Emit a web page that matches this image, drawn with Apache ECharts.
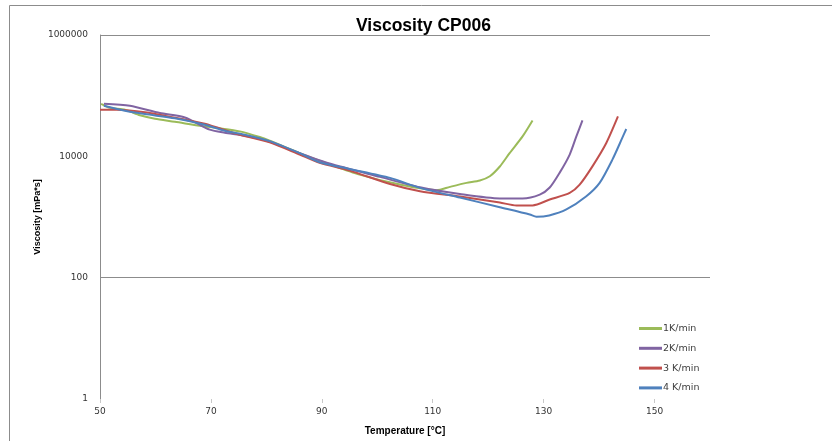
<!DOCTYPE html>
<html>
<head>
<meta charset="utf-8">
<script src="https://cdn.jsdelivr.net/npm/echarts@6/dist/echarts.min.js"></script>
<style>
  html, body { margin: 0; padding: 0; background: #ffffff; }
  #chart { width: 832px; height: 441px; }
</style>
</head>
<body>
<div id="chart"></div>
<script>
// ---- Data ----
const seriesNames = ['1K/min', '2K/min', '3 K/min', '4 K/min'];

const temp1K = [50.2, 51.8, 54.5, 57.2, 59.9, 63.5, 68.0, 71.6, 75.2, 78.8, 80.6, 86.0, 91.4, 96.8, 104.1, 110.7, 113.1, 116.1, 118.5, 120.3, 122.1, 123.9, 126.2, 128.0];
const visc1K = [73500, 63000, 58500, 47500, 41600, 37200, 31900, 29000, 25800, 20800, 18100, 11300, 7400, 5000, 3420, 2760, 3140, 3650, 4000, 4700, 6800, 11400, 21300, 39000];

const temp2K = [50.7, 55.4, 60.8, 65.3, 69.8, 72.5, 76.1, 80.6, 86.0, 91.4, 100.5, 107.7, 114.9, 122.1, 126.2, 129.3, 131.1, 132.9, 134.7, 135.9, 137.0];
const visc2K = [73500, 68000, 51600, 43700, 27500, 24500, 21900, 17400, 11300, 7600, 4580, 3090, 2390, 2020, 2020, 2340, 3060, 5390, 10700, 21300, 39000];

const temp3K = [50.0, 53.0, 58.1, 65.3, 68.9, 75.2, 80.6, 86.0, 89.6, 95.0, 102.3, 107.7, 114.9, 122.1, 125.1, 128.0, 131.1, 134.7, 136.5, 138.8, 141.3, 143.4];
const visc3K = [58500, 58500, 53200, 40100, 34400, 22700, 17000, 10700, 7800, 5820, 3500, 2660, 2170, 1730, 1550, 1550, 1940, 2500, 3420, 6840, 16600, 45400];

const temp4K = [50.7, 54.5, 58.1, 63.5, 68.9, 72.5, 76.1, 80.6, 86.0, 89.6, 95.0, 102.3, 107.7, 114.9, 122.1, 127.5, 128.7, 131.0, 134.1, 137.7, 140.1, 142.4, 144.2, 144.9];
const visc4K = [68100, 56400, 49700, 42400, 33200, 26400, 22700, 17800, 11300, 8000, 6200, 4410, 3020, 2090, 1450, 1100, 1010, 1060, 1330, 2200, 3650, 8820, 20300, 28200];

const xTickLabels = [50, 70, 90, 110, 130, 150];
const yTickLabels = [1, 100, 10000, 1000000];

const colors = ['#9BBB59', '#8064A2', '#C0504D', '#4F81BD'];

function pairs(ts, vs) { return ts.map((t, i) => [t, vs[i]]); }
const allData = [pairs(temp1K, visc1K), pairs(temp2K, visc2K), pairs(temp3K, visc3K), pairs(temp4K, visc4K)];

const chart = echarts.init(document.getElementById('chart'), null, { renderer: 'canvas' });
chart.setOption({
  animation: false,
  backgroundColor: '#ffffff',
  color: colors,
  graphic: [{
    type: 'rect', silent: true,
    shape: { x: 9.5, y: 5.5, width: 1000, height: 1000 },
    style: { fill: 'none', stroke: '#8c8c8c', lineWidth: 1 }
  }],
  title: {
    text: 'Viscosity CP006',
    left: 351, top: 12,
    textStyle: { fontFamily: 'Liberation Sans', fontWeight: 'bold', fontSize: 17.5, color: '#000000' }
  },
  legend: {
    orient: 'vertical',
    left: 634, top: 318.5,
    icon: 'rect',
    itemWidth: 23, itemHeight: 3, itemGap: 9.8,
    data: seriesNames,
    textStyle: { fontFamily: 'DejaVu Sans', fontSize: 9.5, color: '#404040', padding: [0, 0, 0, -4] }
  },
  grid: { left: 100, top: 35, right: 122, bottom: 41, containLabel: false },
  xAxis: {
    type: 'value', min: 50, max: 160,
    axisLine: { show: false },
    axisTick: { show: true, length: 4, lineStyle: { color: '#c8c8c8' }, customValues: xTickLabels },
    axisLabel: { customValues: xTickLabels, fontFamily: 'DejaVu Sans', fontSize: 9, color: '#333333', margin: 8 },
    splitLine: { show: false },
    name: 'Temperature [°C]', nameLocation: 'middle', nameGap: 27,
    nameTextStyle: { fontFamily: 'Liberation Sans', fontWeight: 'bold', fontSize: 10, color: '#000000' }
  },
  yAxis: {
    type: 'log', logBase: 100, min: yTickLabels[0], max: yTickLabels[yTickLabels.length - 1],
    axisLine: { show: true, lineStyle: { color: '#8c8c8c' } },
    axisTick: { show: false },
    axisLabel: { formatter: v => String(Math.round(v)), fontFamily: 'DejaVu Sans', fontSize: 9, color: '#333333', margin: 12 },
    splitLine: { show: true, lineStyle: { color: ['transparent', '#8c8c8c'], width: 1 } },
    name: 'Viscosity [mPa*s]', nameLocation: 'middle', nameGap: 58, nameRotate: 90,
    nameMoveOverlap: false,
    nameTextStyle: { fontFamily: 'Liberation Sans', fontWeight: 'bold', fontSize: 9, color: '#000000' }
  },
  series: seriesNames.map((name, i) => ({
    name: name,
    type: 'line',
    data: allData[i],
    symbol: 'none',
    showSymbol: false,
    smooth: 0.25,
    lineStyle: { width: 2, color: colors[i] },
    itemStyle: { color: colors[i] }
  }))
});
</script>
</body>
</html>
